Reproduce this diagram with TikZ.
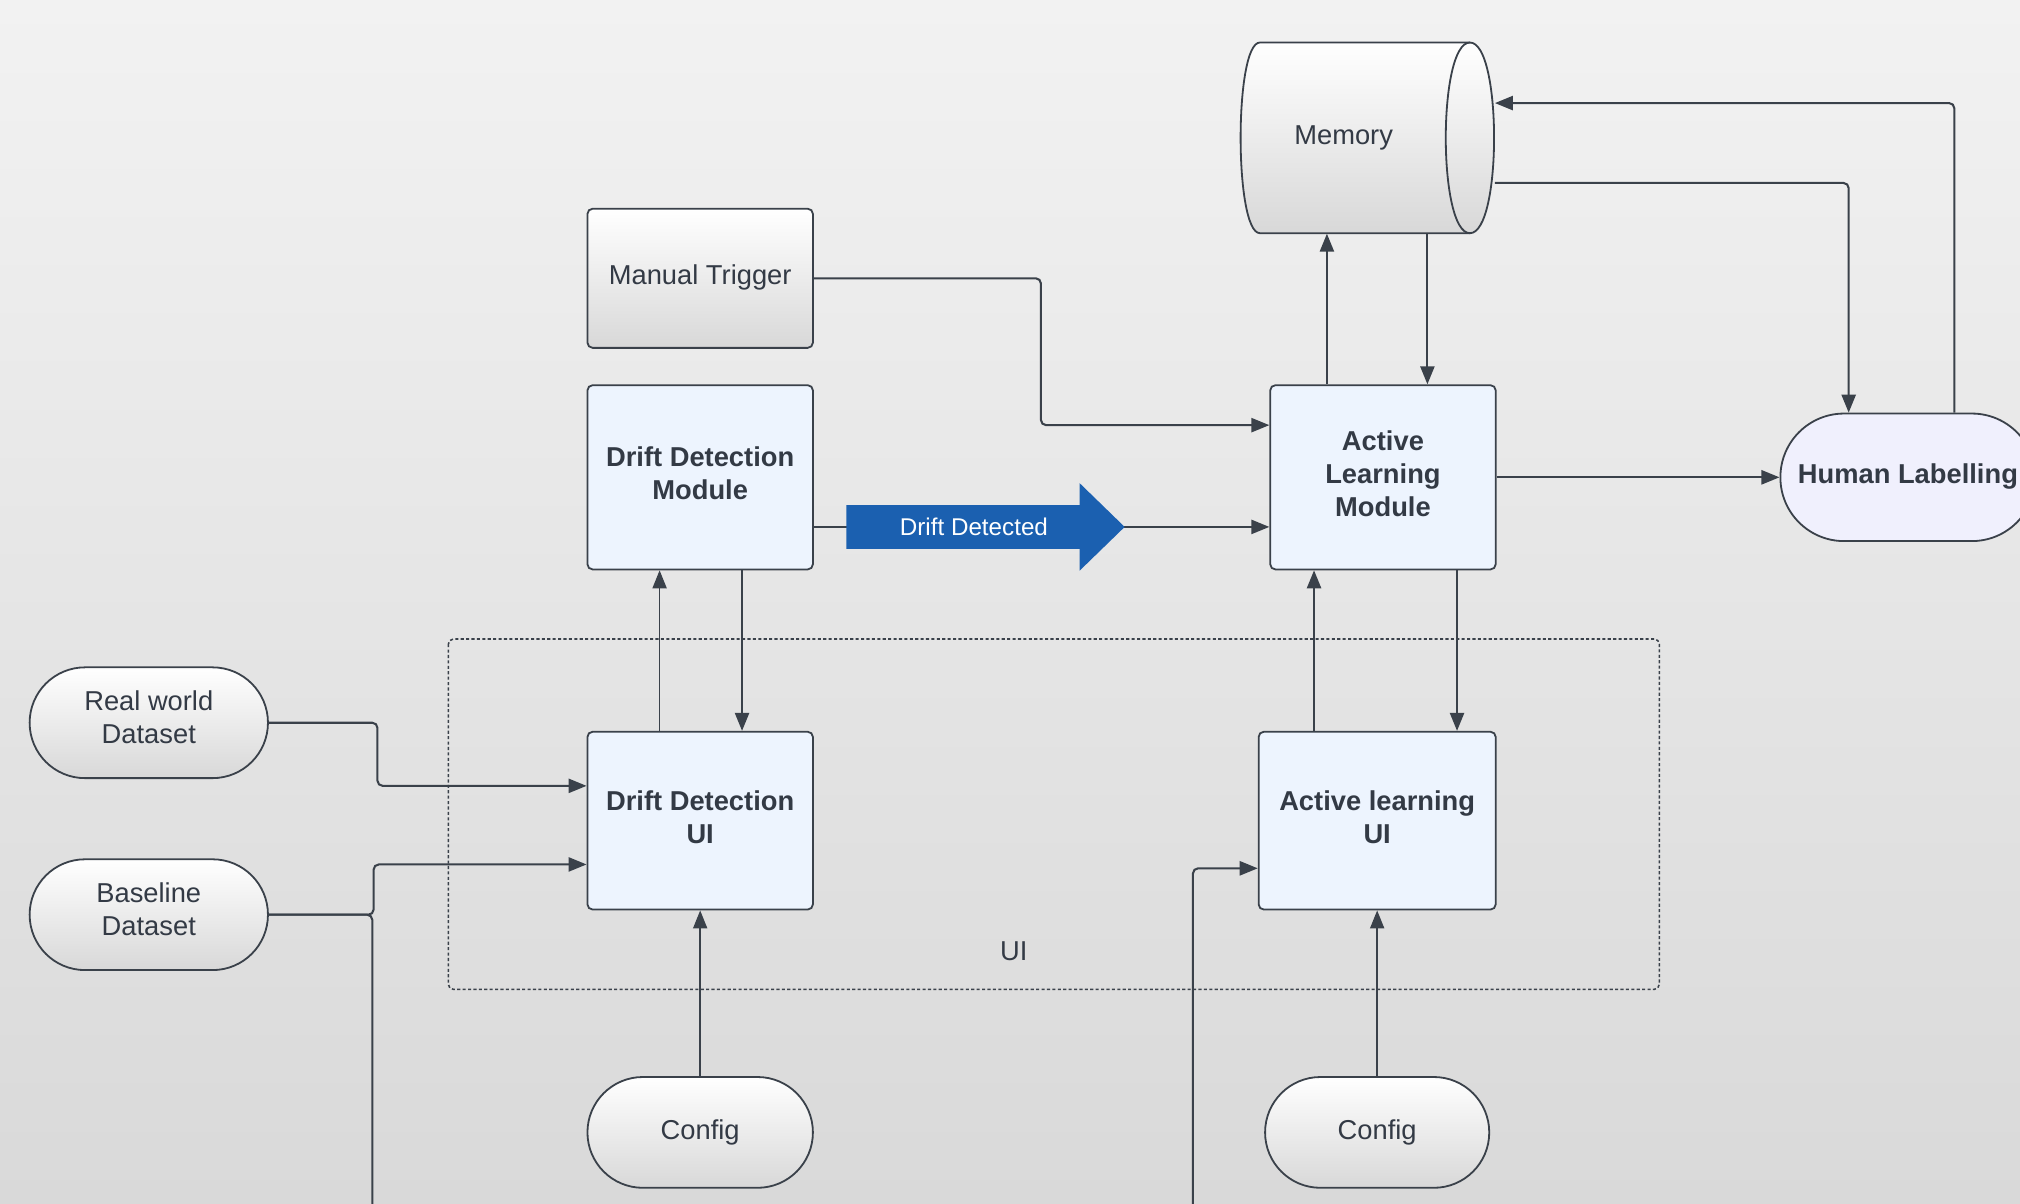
\documentclass[tikz,border=0pt]{standalone}
\usepackage{fontspec}
\setmainfont{Liberation Sans}
\usetikzlibrary{arrows.meta,shapes.misc}

\definecolor{inkgray}{RGB}{58,65,74}
\definecolor{textgray}{RGB}{51,58,69}
\definecolor{boxblue}{RGB}{237,244,254}
\definecolor{humanlilac}{RGB}{240,240,253}
\definecolor{driftblue}{RGB}{27,96,176}
\definecolor{bgtop}{RGB}{242,242,242}
\definecolor{bgbottom}{RGB}{217,217,217}
\definecolor{shadelow}{RGB}{216,216,216}

\tikzset{
  plaintext/.style={font=\fontsize{10.6}{12.8}\selectfont, text=textgray, align=center, inner sep=0pt},
  boldtext/.style={font=\fontsize{10.6}{12.8}\selectfont\bfseries, text=textgray, align=center},
  modbox/.style={boldtext, rectangle, rounded corners=2pt, draw=inkgray, line width=0.7pt, fill=boxblue, minimum width=87.5pt, minimum height=71.5pt, text depth=3pt},
  uibox/.style={modbox, minimum height=69pt},
  greybox/.style={plaintext, rectangle, rounded corners=2pt, draw=inkgray, line width=0.7pt, top color=white, bottom color=shadelow, minimum width=87.5pt, minimum height=54pt, text depth=3.2pt},
  pill/.style={plaintext, rounded rectangle, draw=inkgray, line width=0.7pt, top color=white, bottom color=shadelow, minimum width=92.5pt, minimum height=43pt},
  dataset/.style={pill, text depth=4pt},
  conn/.style={draw=inkgray, line width=0.8pt, rounded corners=2pt, -{Triangle[length=7pt,width=5.5pt]}},
  thinconn/.style={conn, line width=0.55pt}
}

\begin{document}
\begin{tikzpicture}[x=0.5pt,y=0.5pt,yscale=-1,xscale=1]
\useasboundingbox (0,0) rectangle (1568,934);
\clip (0,0) rectangle (1568,934);
\shade[top color=bgtop, bottom color=bgbottom] (0,0) rectangle (1568,934);

%Shape: Can
\shade[top color=white, bottom color=shadelow, draw=inkgray, line width=0.7pt] (978,33) -- (1141,33) .. controls (1166,33) and (1166,181) .. (1141,181) -- (978,181) .. controls (958,181) and (958,33) .. (978,33) -- cycle;
\draw[inkgray, line width=0.7pt] (1141,33) .. controls (1116,33) and (1116,181) .. (1141,181);
\node[minimum width=98.5pt, minimum height=74pt, inner sep=0pt] (mem) at (1061.5,107) {};
% Text Node
\node[plaintext] (memlabel) at (1043,107) {Memory};

%Dotted frame
\draw[inkgray, line width=0.6pt, dash pattern={on 1.2pt off 0.9pt}, rounded corners=2pt] (348,496) rectangle (1288,768);
% Text Node
\node[plaintext] (uilabel) at (787,738) {UI};

%Rounded Rect
\node[greybox] (trigger) at (543.5,216) {Manual Trigger};
\node[modbox] (ddm) at (543.5,370.5) {Drift Detection\\Module};
\node[modbox] (alm) at (1073.5,370.5) {Active\\Learning\\Module};
\node[uibox] (ddui) at (543.5,637) {Drift Detection\\UI};
\node[uibox, minimum width=92pt] (alui) at (1069,637) {Active learning\\UI};
\node[boldtext, rectangle, rounded corners=24.7pt, draw=inkgray, line width=0.7pt, fill=humanlilac, minimum width=99pt, minimum height=49.5pt, text depth=3.2pt] (human) at (1481,370.5) {Human Labelling};

%Terminators
\node[dataset] (real) at (115.5,561) {Real world\\Dataset};
\node[dataset] (base) at (115.5,710) {Baseline\\Dataset};
\node[pill, minimum width=87.5pt] (cfgdd) at (543.5,879) {Config};
\node[pill, minimum width=87pt] (cfgal) at (1069,879) {Config};

%Straight Lines
\draw[conn] (trigger.east) -| (808,330) -- (alm.west |- 808,330);
\draw[conn] (alm.north -| 1030,0) -- (mem.south -| 1030,0);
\draw[conn] (mem.south -| 1108,0) -- (alm.north -| 1108,0);
\draw[conn] (mem.east |- 0,142) -| (human.north -| 1435,0);
\draw[conn] (human.north -| 1517,0) |- (mem.east |- 0,80);
\draw[conn] (alm.east) -- (human.west);
\draw[conn] (ddm.east |- 0,409) -- (alm.west |- 0,409);
\draw[thinconn] (ddui.north -| 512,0) -- (ddm.south -| 512,0);
\draw[conn] (ddm.south -| 576,0) -- (ddui.north -| 576,0);
\draw[conn] (real.east) -| (293,610) -- (ddui.west |- 0,610);
\draw[conn] (base.east) -| (290,671) -- (ddui.west |- 0,671);
\draw[conn] (base.east) -| (289,960) -| (926,674) -- (alui.west |- 0,674);
\draw[conn] (alui.north -| 1020,0) -- (alm.south -| 1020,0);
\draw[conn] (alm.south -| 1131,0) -- (alui.north -| 1131,0);
\draw[thinconn] (cfgdd.north) -- (ddui.south);
\draw[thinconn] (cfgal.north) -- (alui.south);

%Right Arrow
\fill[driftblue] (657,392) -- (838,392) -- (838,375) -- (873,409) -- (838,443) -- (838,426) -- (657,426) -- cycle;
% Text Node
\node[plaintext, text=white, font=\fontsize{9.4}{11}\selectfont] (detected) at (756,409) {Drift Detected};

\end{tikzpicture}
\end{document}
